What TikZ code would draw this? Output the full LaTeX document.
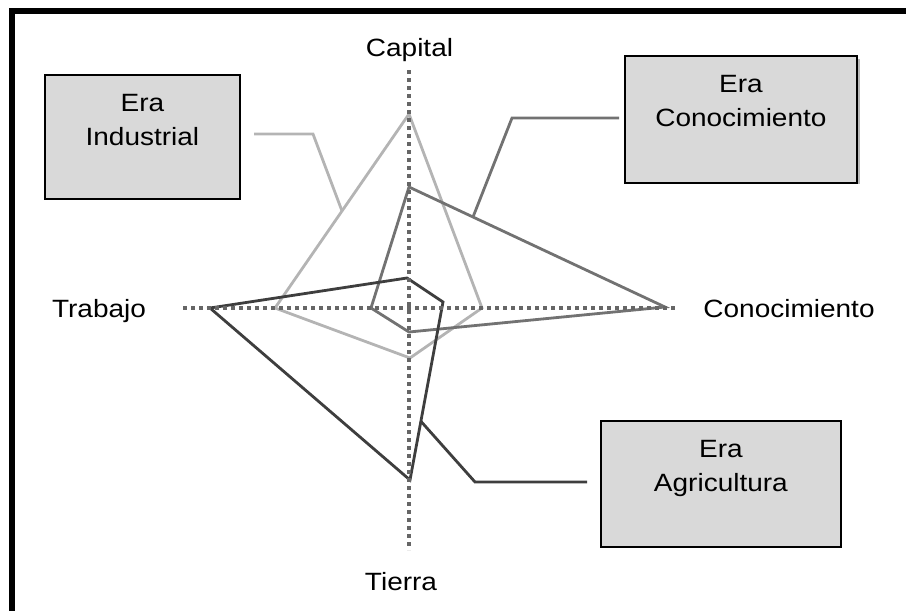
\documentclass[tikz,border=0pt]{standalone}
\usepackage{fontspec}
\setmainfont{Liberation Sans}[FakeStretch=1.12]
\usetikzlibrary{calc}

\definecolor{indgray}{HTML}{B4B4B4}
\definecolor{congray}{HTML}{727272}
\definecolor{agrgray}{HTML}{3E3E3E}
\definecolor{axisgray}{HTML}{666666}
\definecolor{boxfill}{HTML}{D9D9D9}

\tikzset{
  axisline/.style={axisgray, line width=3.4pt, dash pattern=on 3.8pt off 4.2pt},
  profile/.style={line width=2.8pt, line join=miter},
  erabox/.style={draw=black, line width=1.8pt, fill=boxfill, rectangle,
    minimum width=#1, inner sep=0pt},
  boxtext/.style={font=\fontsize{25}{34.5}\selectfont, align=center,
    anchor=north, inner sep=0pt},
  axislabel/.style={font=\fontsize{25}{30}\selectfont, anchor=base, inner sep=0pt},
}

\begin{document}
\begin{tikzpicture}[x=1pt, y=-1pt]
\useasboundingbox (0,0) rectangle (906,611);

% frame (top and left edges)
\draw[line width=6pt, line cap=butt] (12,611) -- (12,11) -- (906,11);

% profile vertices
\coordinate (iT) at (409,114);
\coordinate (iR) at (482,308);
\coordinate (iB) at (410,358);
\coordinate (iL) at (275,308);

\coordinate (cT) at (409,187);
\coordinate (cR) at (665,307);
\coordinate (cB) at (409,332);
\coordinate (cL) at (371,308);

\coordinate (aL) at (210,308);
\coordinate (aT) at (407,278);
\coordinate (aR) at (443,302);
\coordinate (aB) at (410,480);

% profiles
\draw[profile, indgray] (iT) -- (iR) -- (iB) -- (iL) -- cycle;
\draw[profile, congray] (cT) -- (cR) -- (cB) -- (cL) -- cycle;
\draw[profile, agrgray] (aL) -- (aT) -- (aR) -- (aB) -- cycle;

% axes
\coordinate (axN) at (409,70);
\coordinate (axS) at (409,550);
\coordinate (axW) at (183,308);
\coordinate (axE) at (678,308);
\draw[axisline] (axN) -- (axS);
\draw[axisline] (axW) -- (axE);

% axis labels
\node[axislabel] (capital) at (409.5,56) {Capital};
\node[axislabel] (trabajo) at (99,317) {Trabajo};
\node[axislabel] (conoc) at (789,317) {Conocimiento};
\node[axislabel] (tierra) at (401,590) {Tierra};

% era boxes
\node[erabox=195pt, minimum height=124pt, anchor=north west] (ind) at (44,74) {};
\fill[gray!55] (856,59) rectangle (860,184);
\node[erabox=232pt, minimum height=127pt, anchor=north west] (con) at (624,55) {};
\node[erabox=240pt, minimum height=126pt, anchor=north west] (agr) at (600,420) {};

\node[boxtext] (indtext) at ([yshift=-20pt]ind.north) {Era\\Industrial};
\node[boxtext] (context) at ([yshift=-20pt]con.north) {Era\\Conocimiento};
\node[boxtext] (agrtext) at ([yshift=-20pt]agr.north) {Era\\Agricultura};

% leader lines from the boxes to their profiles
\coordinate (indA) at (254,134);
\coordinate (indB) at (313,134);
\draw[profile, indgray] (indA) -- (indB) -- ($(iT)!0.5!(iL)$);

\coordinate (conA) at (619,118);
\coordinate (conB) at (512,118);
\draw[profile, congray] (conA) -- (conB) -- ($(cT)!0.25!(cR)$);

\coordinate (agrA) at (587,482);
\coordinate (agrB) at (475,482);
\draw[profile, agrgray] (agrA) -- (agrB) -- ($(aR)!0.67!(aB)$);
\end{tikzpicture}
\end{document}
